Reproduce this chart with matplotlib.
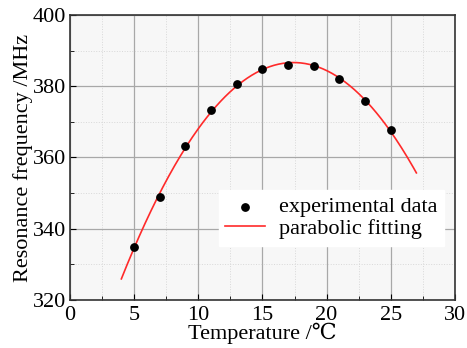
import numpy as np
import matplotlib
matplotlib.use("Agg")
import matplotlib.pyplot as plt
from matplotlib.ticker import MultipleLocator

plt.rcParams['font.family'] = ['Liberation Serif', 'DejaVu Serif']

# experimental points
temp = [5, 7, 9, 11, 13, 15, 17, 19, 21, 23, 25]
freq = [334.9, 348.9, 363.3, 373.2, 380.5, 384.9, 385.9, 385.7, 382.1, 375.9, 367.7]

# parabolic fit over the drawn range of the curve
fit_range = [4, 27]
coef = np.polyfit(temp, freq, 2)
xf = np.linspace(fit_range[0], fit_range[1], 200)
yf = np.polyval(coef, xf)

fig = plt.figure(figsize=(4.67, 3.48), dpi=100)
ax = fig.add_axes([0.150, 0.138, 0.824, 0.819])
ax.set_facecolor('#f7f7f7')

ax.plot(xf, yf, color='#ff2a2a', lw=1.2, label='parabolic fitting', zorder=3)
ax.scatter(temp, freq, s=28, color='black', label='experimental data', zorder=4)

ax.set_xlim(0, 30)
ax.set_ylim(320, 400)
ax.xaxis.set_major_locator(MultipleLocator(5))
ax.xaxis.set_minor_locator(MultipleLocator(2.5))
ax.yaxis.set_major_locator(MultipleLocator(20))
ax.yaxis.set_minor_locator(MultipleLocator(10))

ax.grid(which='major', color='#a8a8a8', lw=0.9, ls='-')
ax.grid(which='minor', color='#d8d8d8', lw=0.7, ls=':')
ax.set_axisbelow(True)

ax.tick_params(which='both', direction='in', labelsize=16, top=False, right=False)
ax.tick_params(axis='x', pad=4)
ax.tick_params(axis='y', pad=3)
ax.tick_params(which='major', length=4)
ax.tick_params(which='minor', length=3)
for s in ax.spines.values():
    s.set_color('#333333')
    s.set_linewidth(1.2)

ax.set_xlabel('Temperature /\u2103', fontsize=16, labelpad=-1)
ax.set_ylabel('Resonance frequency /MHz', fontsize=16, labelpad=0)

handles, labels = ax.get_legend_handles_labels()
leg = ax.legend(handles[::-1], labels[::-1], loc='center right',
                bbox_to_anchor=(1.0, 0.288), fontsize=16, frameon=True,
                fancybox=False, framealpha=1, edgecolor='white',
                handlelength=1.8, borderpad=0.3, labelspacing=0.05,
                handletextpad=0.6, scatterpoints=1)

fig.savefig('out.png', dpi=100, facecolor='white')
